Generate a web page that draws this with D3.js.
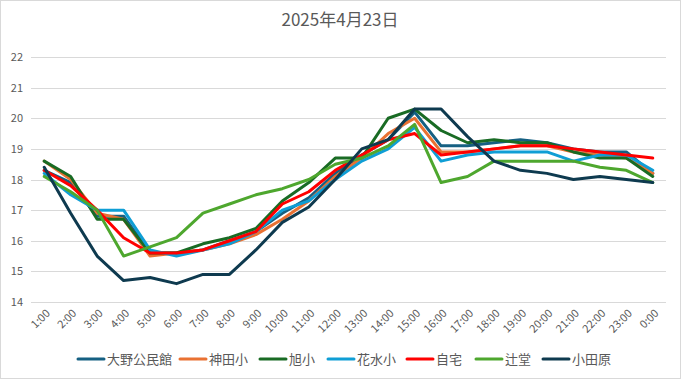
<!DOCTYPE html>
<html>
<head>
<meta charset="utf-8">
<script src="https://cdn.jsdelivr.net/npm/d3@7"></script>
<style>
  body { margin: 0; background: #fff; }
  text { font-family: "Noto Sans CJK JP", "Noto Sans", sans-serif; fill: #595959; }
</style>
</head>
<body>
<script>
// hours along the x axis
var hours = ["1:00","2:00","3:00","4:00","5:00","6:00","7:00","8:00","9:00","10:00","11:00","12:00",
  "13:00","14:00","15:00","16:00","17:00","18:00","19:00","20:00","21:00","22:00","23:00","0:00"];
var yTicks = [14, 15, 16, 17, 18, 19, 20, 21, 22];

var names = ["大野公民館", "神田小", "旭小", "花水小", "自宅", "辻堂", "小田原"];
var colors = ["#156082", "#E97132", "#196B24", "#0F9ED5", "#FF0000", "#4EA72E", "#0E3A4F"];

var oono     = [18.3, 17.9, 16.8, 16.8, 15.6, 15.6, 15.7, 16.0, 16.3, 16.9, 17.4, 18.2, 18.8, 19.3, 20.2, 19.1, 19.1, 19.2, 19.3, 19.2, 19.0, 18.9, 18.9, 18.2];
var kanda    = [18.6, 18.0, 16.9, 16.7, 15.5, 15.6, 15.7, 15.9, 16.2, 16.7, 17.3, 18.1, 18.7, 19.5, 20.0, 18.9, 18.9, 19.0, 19.1, 19.1, 18.9, 18.8, 18.7, 18.2];
var asahi    = [18.6, 18.1, 16.7, 16.7, 15.6, 15.6, 15.9, 16.1, 16.4, 17.3, 17.9, 18.7, 18.7, 20.0, 20.3, 19.6, 19.2, 19.3, 19.2, 19.2, 18.9, 18.7, 18.7, 18.1];
var hanamizu = [18.2, 17.5, 17.0, 17.0, 15.7, 15.5, 15.7, 15.9, 16.3, 17.0, 17.3, 18.0, 18.6, 19.0, 19.7, 18.6, 18.8, 18.9, 18.9, 18.9, 18.6, 18.8, 18.8, 18.3];
var jitaku   = [18.3, 17.8, 17.0, 16.1, 15.6, 15.6, 15.7, 16.0, 16.3, 17.2, 17.6, 18.3, 18.8, 19.3, 19.5, 18.8, 18.9, 19.0, 19.1, 19.1, 19.0, 18.9, 18.8, 18.7];
var tsujido  = [18.1, 17.6, 17.0, 15.5, 15.8, 16.1, 16.9, 17.2, 17.5, 17.7, 18.0, 18.5, 18.7, 19.1, 19.8, 17.9, 18.1, 18.6, 18.6, 18.6, 18.6, 18.4, 18.3, 17.9];
var odawara  = [18.4, 16.9, 15.5, 14.7, 14.8, 14.6, 14.9, 14.9, 15.7, 16.6, 17.1, 18.0, 19.0, 19.3, 20.3, 20.3, 19.4, 18.6, 18.3, 18.2, 18.0, 18.1, 18.0, 17.9];

var allSeries = [oono, kanda, asahi, hanamizu, jitaku, tsujido, odawara];

var W = 681, H = 379;
var svg = d3.select("body").append("svg")
    .attr("width", W)
    .attr("height", H);

svg.append("rect")
    .attr("x", 0.5).attr("y", 0.5)
    .attr("width", W - 1).attr("height", H - 1)
    .attr("fill", "#fff")
    .attr("stroke", "#D9D9D9");

svg.append("text")
    .attr("x", 340).attr("y", 26)
    .attr("text-anchor", "middle")
    .style("font-size", "17px")
    .text("2025年4月23日");

var x = d3.scalePoint().domain(hours).range([31, 666]).padding(0.5);
var y = d3.scaleLinear().domain([14, 22]).range([302, 57]);

// gridlines
svg.append("g").selectAll("line")
    .data(yTicks)
    .enter().append("line")
    .attr("x1", 31).attr("x2", 666)
    .attr("y1", function(d) { return Math.round(y(d)) + 0.5; })
    .attr("y2", function(d) { return Math.round(y(d)) + 0.5; })
    .attr("stroke", "#D9D9D9")
    .attr("stroke-width", 1);

// y axis labels
var yAxis = svg.append("g")
    .attr("transform", "translate(23,0)")
    .call(d3.axisLeft(y).tickValues(yTicks).tickSize(0).tickPadding(0));
yAxis.select(".domain").remove();
yAxis.selectAll("text")
    .style("font-size", "11px")
    .style("font-family", "'Noto Sans CJK JP', sans-serif")
    .attr("fill", "#595959");

// x axis labels
var xAxis = svg.append("g")
    .attr("transform", "translate(0,302)")
    .call(d3.axisBottom(x).tickSize(0).tickPadding(0));
xAxis.select(".domain").remove();
xAxis.selectAll("text")
    .style("font-size", "11px")
    .style("font-family", "'Noto Sans CJK JP', sans-serif")
    .attr("fill", "#595959")
    .attr("text-anchor", "end")
    .attr("dy", null)
    .attr("transform", "translate(6,12) rotate(-45)");

var line = d3.line()
    .x(function(d, i) { return x(hours[i]); })
    .y(function(d) { return y(d); });

svg.append("g").selectAll("path")
    .data(allSeries)
    .enter().append("path")
    .attr("d", line)
    .attr("fill", "none")
    .attr("stroke", function(d, i) { return colors[i]; })
    .attr("stroke-width", 3)
    .attr("stroke-linejoin", "round")
    .attr("stroke-linecap", "round");

// legend
var legendX = [78, 180, 260, 328, 407, 476, 543];
var legend = svg.append("g").selectAll("g")
    .data(names)
    .enter().append("g")
    .attr("transform", function(d, i) { return "translate(" + legendX[i] + ",359)"; });
legend.append("line")
    .attr("x1", 0).attr("x2", 26)
    .attr("stroke", function(d, i) { return colors[i]; })
    .attr("stroke-width", 3)
    .attr("stroke-linecap", "round");
legend.append("text")
    .attr("x", 29).attr("y", 5)
    .style("font-size", "13px")
    .text(function(d) { return d; });
</script>
</body>
</html>
